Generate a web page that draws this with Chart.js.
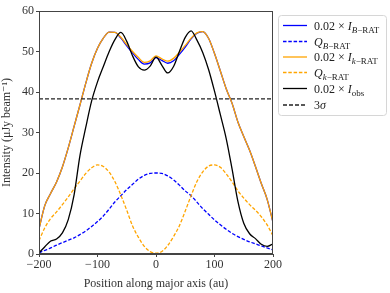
<!DOCTYPE html>
<html><head><meta charset="utf-8">
<script src="https://cdn.jsdelivr.net/npm/chart.js@4"></script>
<style>html,body{margin:0;padding:0;background:#fff}#wrap{width:390px;height:293px;position:relative}</style>
</head><body><div id="wrap"><canvas id="c" width="390" height="293"></canvas></div>
<script>
// Position along major axis (au)
const positions = [-200,-190,-180,-170,-160,-150,-140,-130,-120,-110,-100,-90,-80,-70,-60,-50,-40,-30,-20,-10,0,10,20,30,40,50,60,70,80,90,100,110,120,130,140,150,160,170,180,190,200];
// 0.02 x I_B-RAT
const iBRAT = [6.2,12.0,15.0,17.8,21.5,26.2,31.5,36.8,42.2,47.1,50.8,53.3,54.8,54.7,53.3,51.4,49.6,48.0,46.9,47.2,48.5,47.8,47.1,47.7,49.3,51.1,53.1,54.5,54.9,53.2,49.5,45.2,40.8,37.2,32.6,29.0,25.6,21.6,17.4,13.5,7.8];
// Q_B-RAT
const qBRAT = [0.3,0.9,1.5,2.2,2.8,3.4,4.0,4.8,5.7,6.8,8.0,9.4,11.1,12.9,14.4,15.9,17.2,18.5,19.4,19.9,20.0,19.9,19.3,18.3,17.0,15.6,14.4,12.8,11.2,9.8,8.4,7.2,6.1,5.1,4.3,3.6,3.0,2.5,2.0,1.5,1.0];
// 0.02 x I_k-RAT
const iKRAT = [6.2,12.0,15.0,17.8,21.5,26.2,31.5,36.8,42.2,47.1,50.8,53.3,54.8,54.7,53.5,51.7,50.0,48.5,47.3,47.7,48.9,48.2,47.6,48.3,49.8,51.5,53.3,54.6,54.9,53.2,49.5,45.2,40.8,37.2,32.6,29.0,25.6,21.6,17.4,13.5,7.8];
// Q_k-RAT
const qKRAT = [3.3,6.5,8.8,10.4,12.2,14.1,16.1,18.0,19.9,21.3,22.0,21.6,20.2,17.8,14.5,10.8,6.9,4.1,1.9,0.6,0.2,0.6,2.1,4.3,7.0,10.6,14.4,17.9,20.3,21.7,22.0,21.4,19.8,17.8,15.6,13.8,12.2,10.8,9.2,7.2,4.5];
// 0.02 x I_obs
const iObs = [0.3,1.8,3.2,3.7,5.2,8.5,14.6,24.3,31.3,37.8,42.5,46.3,50.0,53.0,54.7,52.5,48.9,46.2,45.4,46.4,48.6,46.6,44.7,46.3,50.0,53.5,55.1,52.8,49.7,45.5,40.2,34.4,28.5,21.0,13.0,7.6,5.0,3.8,2.4,1.9,2.5];
// 3 sigma level
const threeSigma = 38.3;
const xRange = [-200, 200];
const xTicks = [-200, -100, 0, 100, 200];
const yTicks = [0, 10, 20, 30, 40, 50, 60];

const FONT = "'Liberation Serif', 'DejaVu Serif', serif";
const pts = arr => positions.map((x, i) => ({x, y: arr[i]}));
const DASH = [3.5, 1.8];

const base = {pointRadius: 0, borderWidth: 1.3, fill: false, tension: 0.4, cubicInterpolationMode: 'monotone'};
const datasets = [
  {...base, label: 'IB', data: pts(iBRAT), borderColor: 'blue', order: 6},
  {...base, label: 'QB', data: pts(qBRAT), borderColor: 'blue', borderDash: DASH, order: 5},
  {...base, label: 'IK', data: pts(iKRAT), borderColor: 'orange', order: 4},
  {...base, label: 'QK', data: pts(qKRAT), borderColor: 'orange', borderDash: DASH, order: 3},
  {...base, label: 'Iobs', data: pts(iObs), borderColor: 'black', order: 2},
  {...base, label: '3sigma', data: xRange.map(x => ({x, y: threeSigma})), borderColor: '#222', borderDash: [4, 2], borderWidth: 1.2, order: 1}
];

const legendItems = [
  {color: 'blue', dash: [], parts: [['0.02 × ', 'n'], ['I', 'i'], ['B', 'si'], ['−RAT', 's']]},
  {color: 'blue', dash: DASH, parts: [['Q', 'i'], ['B', 'si'], ['−RAT', 's']]},
  {color: 'orange', dash: [], parts: [['0.02 × ', 'n'], ['I', 'i'], ['k', 'si'], ['−RAT', 's']]},
  {color: 'orange', dash: DASH, parts: [['Q', 'i'], ['k', 'si'], ['−RAT', 's']]},
  {color: 'black', dash: [], parts: [['0.02 × ', 'n'], ['I', 'i'], ['obs', 's']]},
  {color: '#222', dash: [4, 2], parts: [['3', 'n'], ['σ', 'i']]}
];
const rowY = [25.5, 41.5, 57, 72.5, 88.5, 105];

const framePlugin = {
  id: 'frame',
  afterDatasetsDraw(chart) {
    const a = chart.chartArea, ctx = chart.ctx;
    ctx.save();
    ctx.strokeStyle = '#444';
    ctx.lineWidth = 1;
    ctx.strokeRect(Math.round(a.left) + 0.5, Math.round(a.top) + 0.5, Math.round(a.right - a.left) - 1, Math.round(a.bottom - a.top) - 1);
    ctx.restore();
  }
};

const legendPlugin = {
  id: 'customLegend',
  afterDraw(chart) {
    const ctx = chart.ctx;
    ctx.save();
    ctx.beginPath();
    ctx.roundRect(278.5, 15.5, 108, 100, 3);
    ctx.fillStyle = 'rgba(255,255,255,0.85)';
    ctx.fill();
    ctx.strokeStyle = '#d6d6d6';
    ctx.lineWidth = 1;
    ctx.stroke();
    legendItems.forEach((it, i) => {
      const y = rowY[i];
      ctx.beginPath();
      ctx.setLineDash(it.dash);
      ctx.strokeStyle = it.color;
      ctx.lineWidth = 1.3;
      ctx.moveTo(283, y);
      ctx.lineTo(307, y);
      ctx.stroke();
      ctx.setLineDash([]);
      let x = 314;
      ctx.fillStyle = '#222';
      ctx.textBaseline = 'alphabetic';
      ctx.textAlign = 'left';
      it.parts.forEach(([t, f]) => {
        let font, dy = 0;
        if (f === 'n') font = `12px ${FONT}`;
        else if (f === 'i') font = `italic 12px ${FONT}`;
        else if (f === 'si') { font = `italic 9px ${FONT}`; dy = 3; }
        else { font = `9px ${FONT}`; dy = 3; }
        ctx.font = font;
        ctx.fillText(t, x, y + 4 + dy);
        x += ctx.measureText(t).width;
      });
    });
    ctx.restore();
  }
};

const tickFont = {family: FONT, size: 12};
new Chart(document.getElementById('c'), {
  type: 'line',
  data: {datasets},
  options: {
    responsive: false,
    animation: false,
    events: [],
    layout: {padding: {top: 11, right: 117, left: 0, bottom: 0}},
    plugins: {legend: {display: false}, tooltip: {enabled: false}},
    scales: {
      x: {
        type: 'linear', min: xRange[0], max: xRange[1],
        afterFit: s => { s.height = 39; },
        afterBuildTicks: s => { s.ticks = xTicks.map(v => ({value: v})); },
        ticks: {color: '#333', font: tickFont, padding: 1, maxRotation: 0,
          callback: v => String(v).replace('-', '−')},
        grid: {display: true, drawOnChartArea: false, drawTicks: true, tickLength: 3, color: '#444'},
        border: {display: true, color: '#444', width: 1},
        title: {display: true, text: 'Position along major axis (au)', color: '#333', font: tickFont, padding: {top: 0, bottom: 2}}
      },
      y: {
        type: 'linear', min: 0, max: 60,
        afterFit: s => { s.width = 39; },
        afterBuildTicks: s => { s.ticks = yTicks.map(v => ({value: v})); },
        ticks: {color: '#333', font: tickFont, padding: 2},
        grid: {display: true, drawOnChartArea: false, drawTicks: true, tickLength: 3, color: '#444'},
        border: {display: true, color: '#444', width: 1},
        title: {display: true, text: 'Intensity (μJy beam⁻¹)', color: '#333', font: tickFont, padding: {top: 0, bottom: 2}}
      }
    }
  },
  plugins: [framePlugin, legendPlugin]
});
</script>
</body></html>
